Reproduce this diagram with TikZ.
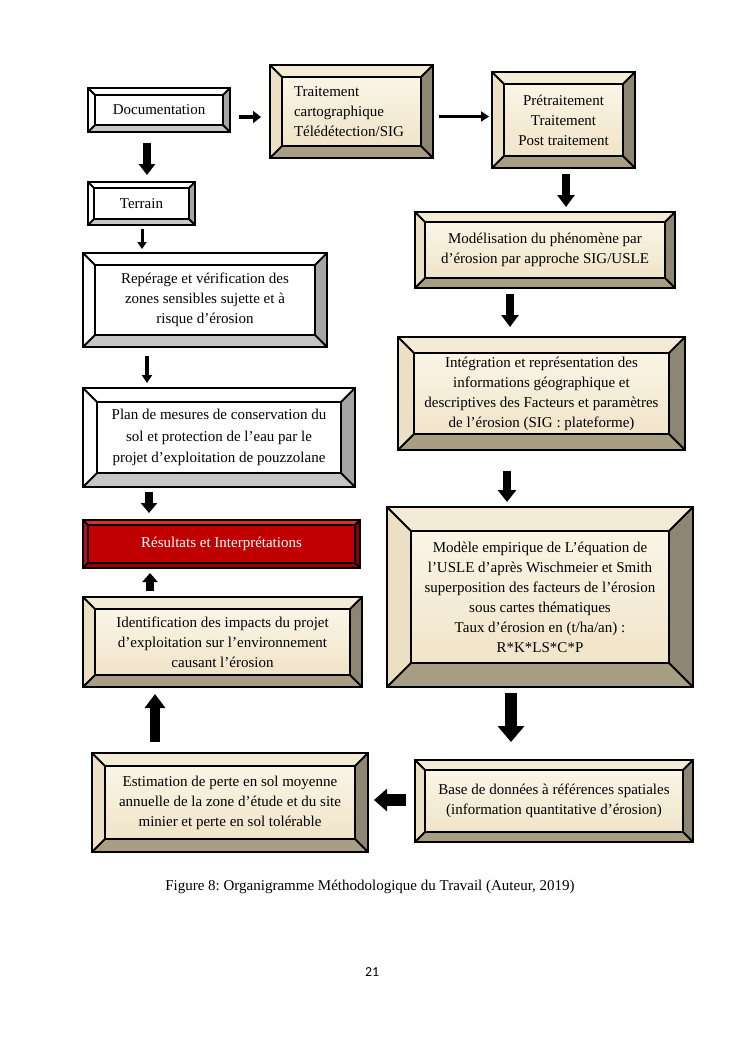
\documentclass[tikz,border=0pt]{standalone}
\usepackage{fontspec}
\setmainfont{Liberation Serif}
\newfontfamily\pagefont{Carlito}
\usepackage{tikz}
\usetikzlibrary{positioning, arrows.meta}
\frenchspacing
\definecolor{facetop}{HTML}{FDF8EC}
\definecolor{facebot}{HTML}{EEE1C3}
\definecolor{beigetop}{HTML}{F4EBD7}
\definecolor{beigeleft}{HTML}{ECE0C4}
\definecolor{beigeright}{HTML}{8E8672}
\definecolor{beigebot}{HTML}{A89E83}
\definecolor{greyright}{HTML}{A6A6A6}
\definecolor{greybot}{HTML}{C6C6C6}
\definecolor{redface}{HTML}{C00000}
\definecolor{redtop}{HTML}{D43030}
\definecolor{redleft}{HTML}{B31010}
\definecolor{redright}{HTML}{8A0000}
\definecolor{redbot}{HTML}{9C0000}
\tikzset{
  bvw/.store in=\bvw, bvw=10pt,
  bvtop/.store in=\bvtop, bvleft/.store in=\bvleft,
  bvright/.store in=\bvright, bvbot/.store in=\bvbot,
  bevel/.style={draw, line width=2pt, align=center, inner sep=0pt,
    font=\fontsize{15}{20}\selectfont,
    path picture={
      \coordinate (bvA) at (path picture bounding box.north west);
      \coordinate (bvB) at (path picture bounding box.north east);
      \coordinate (bvC) at (path picture bounding box.south east);
      \coordinate (bvD) at (path picture bounding box.south west);
      \coordinate (bva) at ([xshift=\bvw, yshift=-\bvw]bvA);
      \coordinate (bvb) at ([xshift=-\bvw, yshift=-\bvw]bvB);
      \coordinate (bvc) at ([xshift=-\bvw, yshift=\bvw]bvC);
      \coordinate (bvd) at ([xshift=\bvw, yshift=\bvw]bvD);
      \fill[\bvtop] (bvA)--(bvB)--(bvb)--(bva)--cycle;
      \fill[\bvright] (bvB)--(bvC)--(bvc)--(bvb)--cycle;
      \fill[\bvbot] (bvC)--(bvD)--(bvd)--(bvc)--cycle;
      \fill[\bvleft] (bvD)--(bvA)--(bva)--(bvd)--cycle;
      \draw[line width=1.8pt] (bva) rectangle (bvc)
        (bvA)--(bva) (bvB)--(bvb) (bvC)--(bvc) (bvD)--(bvd);
    }},
  blkw/.style={bevel, fill=white, bvtop=white, bvleft=white,
               bvright=greyright, bvbot=greybot},
  blkb/.style={bevel, top color=facetop, bottom color=facebot,
               bvtop=beigetop, bvleft=beigeleft, bvright=beigeright, bvbot=beigebot},
  blkr/.style={bevel, fill=redface, text=white, bvtop=redtop, bvleft=redleft,
               bvright=redright, bvbot=redbot},
  flow/.style n args={3}{line width=#1, -{Triangle[length=#2, width=#3]}}
}
\begin{document}
\begin{tikzpicture}[x=1pt, y=-1pt]
  \fill[white] (0,0) rectangle (745,1053);
  \useasboundingbox (0,0) rectangle (745,1053);
  % left column
  \node[blkw, bvw=7pt, minimum width=142, minimum height=44] (doc) at (159,110) {Documentation};
  \node[blkw, bvw=6pt, minimum width=107, minimum height=43] (terrain) at (141.5,203.5) {Terrain};
  \node[blkw, bvw=12pt, minimum width=244, minimum height=94] (rep) at (205,300)
    {Repérage et vérification des\\zones sensibles sujette et à\\risque d’érosion};
  \node[blkw, bvw=14pt, minimum width=272, minimum height=99,
        font=\fontsize{15}{21.5}\selectfont] (plan) at (219,437.5)
    {Plan de mesures de conservation du\\sol et protection de l’eau par le\\projet d’exploitation de pouzzolane};
  \node[blkr, bvw=5pt, minimum width=277, minimum height=48] (res) at (221.5,544)
    {Résultats et Interprétations};
  \node[blkb, bvw=12pt, minimum width=279, minimum height=90] (ident) at (222.5,642)
    {Identification des impacts du projet\\d’exploitation sur l’environnement\\causant l’érosion};
  \node[blkb, bvw=13pt, minimum width=276, minimum height=99] (estim) at (230,802.5)
    {Estimation de perte en sol moyenne\\annuelle de la zone d’étude et du site\\minier et perte en sol tolérable};
  % top row and right column
  \node[blkb, bvw=12pt, minimum width=163, minimum height=93, text width=115pt, align=left]
    (trait) at (351.5,111.5) {Traitement\\cartographique\\Télédétection/SIG};
  \node[blkb, bvw=12pt, minimum width=143, minimum height=96] (pret) at (563.5,120)
    {Prétraitement\\Traitement\\Post traitement};
  \node[blkb, bvw=10pt, minimum width=260, minimum height=76] (mod) at (545,250)
    {Modélisation du phénomène par\\d’érosion par approche SIG/USLE};
  \node[blkb, bvw=16pt, minimum width=287, minimum height=113] (integ) at (541.5,393.5)
    {Intégration et représentation des\\informations géographique et\\descriptives des Facteurs et paramètres\\de l’érosion (SIG : plateforme)};
  \node[blkb, bvw=24pt, minimum width=306, minimum height=180] (modele) at (540,597)
    {Modèle empirique de L’équation de\\l’USLE d’après Wischmeier et Smith\\superposition des facteurs de l’érosion\\sous cartes thématiques\\Taux d’érosion en (t/ha/an) :\\R*K*LS*C*P};
  \node[blkb, bvw=10pt, minimum width=278, minimum height=82] (base) at (554,801)
    {Base de données à références spatiales\\(information quantitative d’érosion)};
  % arrows
  \draw[flow={4pt}{8pt}{12pt}, shorten <=8pt, shorten >=8pt]
    ([yshift=-7pt]doc.east) -- ([yshift=-7pt]doc.east -| trait.west);
  \draw[flow={3pt}{8pt}{10pt}, shorten <=5pt, shorten >=2pt]
    ([yshift=-5pt]trait.east) -- ([yshift=-5pt]trait.east -| pret.west);
  \draw[flow={8pt}{12pt}{17pt}, shorten <=5pt, shorten >=4pt]
    ([xshift=2.5pt]pret.south) -- ([xshift=2.5pt]pret.south |- mod.north);
  \draw[flow={8pt}{12pt}{17pt}, shorten <=5pt, shorten >=9pt]
    ([xshift=-35pt]mod.south) -- ([xshift=-35pt]mod.south |- integ.north);
  \draw[flow={8pt}{12pt}{18pt}, shorten <=20pt, shorten >=4pt]
    ([xshift=-34.5pt]integ.south) -- ([xshift=-34.5pt]integ.south |- modele.north);
  \draw[flow={12pt}{16pt}{26pt}, shorten <=5pt, shorten >=17pt]
    ([xshift=-29pt]modele.south) -- ([xshift=-29pt]modele.south |- base.north);
  \draw[flow={12pt}{13pt}{22pt}, shorten <=8pt, shorten >=5pt]
    ([yshift=1pt]base.west) -- ([yshift=1pt]base.west -| estim.east);
  \draw[flow={10pt}{14pt}{20pt}, shorten <=10pt, shorten >=6pt]
    ([xshift=-75pt]estim.north) -- ([xshift=-75pt]estim.north |- ident.south);
  \draw[flow={8pt}{9pt}{15pt}, shorten <=5pt, shorten >=4pt]
    ([xshift=-72.5pt]ident.north) -- ([xshift=-72.5pt]ident.north |- res.south);
  \draw[flow={8pt}{10pt}{16pt}, shorten <=4pt, shorten >=6pt]
    ([xshift=-70pt]plan.south) -- ([xshift=-70pt]plan.south |- res.north);
  \draw[flow={4pt}{8pt}{10pt}, shorten <=8pt, shorten >=4pt]
    ([xshift=-58pt]rep.south) -- ([xshift=-58pt]rep.south |- plan.north);
  \draw[flow={3pt}{7pt}{9pt}, shorten <=3pt, shorten >=3pt]
    ([xshift=0.5pt]terrain.south) -- ([xshift=0.5pt]terrain.south |- rep.north);
  \draw[flow={8pt}{11pt}{16pt}, shorten <=10pt, shorten >=6pt]
    ([xshift=-12pt]doc.south) -- ([xshift=-12pt]doc.south |- terrain.north);
  % caption and page number
  \node[font=\fontsize{15}{18}\selectfont] (caption) at (370,887)
    {Figure 8: Organigramme Méthodologique du Travail (Auteur, 2019)};
  \node[font=\pagefont\fontsize{13.75}{16}\selectfont] (pagenum) at (372,972) {21};
\end{tikzpicture}
\end{document}
